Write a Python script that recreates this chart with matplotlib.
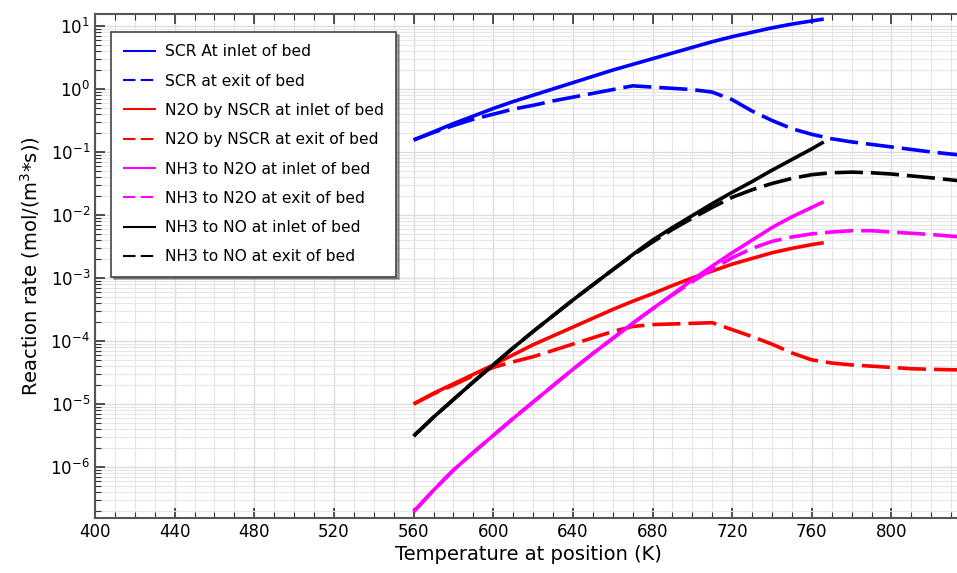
import matplotlib
matplotlib.use("Agg")
import matplotlib.pyplot as plt
import numpy as np
from matplotlib.ticker import MultipleLocator, FixedLocator, NullFormatter

# temperatures (K) and log10 reaction rates
t_inlet = [560, 570, 580, 590, 600, 610, 620, 630, 640, 650, 660,
           670, 680, 690, 700, 710, 720, 730, 740, 750, 760, 766]
t_exit = [560, 570, 580, 590, 600, 610, 620, 630, 640, 650, 660,
          670, 680, 690, 700, 710, 720, 730, 740, 750, 760, 770,
          780, 790, 800, 810, 820, 835]

scr_inlet = [-0.81, -0.68, -0.55, -0.43, -0.31, -0.20, -0.10, 0.00, 0.10, 0.20, 0.30,
             0.39, 0.48, 0.57, 0.66, 0.75, 0.83, 0.90, 0.97, 1.03, 1.08, 1.11]
scr_exit = [-0.81, -0.69, -0.58, -0.48, -0.40, -0.32, -0.26, -0.19, -0.13, -0.07, -0.01,
            0.05, 0.03, 0.01, -0.01, -0.05, -0.17, -0.35, -0.50, -0.63, -0.72, -0.79,
            -0.84, -0.88, -0.92, -0.96, -1.00, -1.05]

n2o_inlet = [-5.0, -4.83, -4.68, -4.53, -4.38, -4.22, -4.06, -3.92, -3.78, -3.64, -3.50,
             -3.37, -3.25, -3.12, -3.0, -2.89, -2.78, -2.69, -2.60, -2.53, -2.47, -2.44]
n2o_exit = [-5.0, -4.84, -4.70, -4.55, -4.42, -4.33, -4.25, -4.15, -4.05, -3.95, -3.85,
            -3.77, -3.74, -3.73, -3.72, -3.71, -3.82, -3.93, -4.05, -4.19, -4.30, -4.35,
            -4.38, -4.40, -4.42, -4.44, -4.45, -4.46]

nh3n2o_inlet = [-6.71, -6.37, -6.05, -5.77, -5.50, -5.23, -4.97, -4.71, -4.45, -4.20, -3.96,
                -3.72, -3.49, -3.26, -3.03, -2.81, -2.60, -2.40, -2.20, -2.03, -1.88, -1.79]
nh3n2o_exit = [-6.71, -6.37, -6.05, -5.77, -5.50, -5.23, -4.97, -4.71, -4.45, -4.20, -3.96,
               -3.72, -3.49, -3.27, -3.06, -2.86, -2.68, -2.53, -2.42, -2.35, -2.30, -2.27,
               -2.25, -2.25, -2.27, -2.29, -2.31, -2.35]

nh3no_inlet = [-5.51, -5.21, -4.93, -4.65, -4.38, -4.11, -3.85, -3.60, -3.35, -3.11, -2.87,
               -2.63, -2.40, -2.20, -2.01, -1.82, -1.64, -1.47, -1.29, -1.12, -0.95, -0.84]
nh3no_exit = [-5.51, -5.21, -4.93, -4.65, -4.38, -4.11, -3.85, -3.60, -3.35, -3.11, -2.87,
              -2.64, -2.43, -2.23, -2.05, -1.88, -1.72, -1.60, -1.50, -1.42, -1.36, -1.33,
              -1.32, -1.33, -1.35, -1.38, -1.41, -1.46]

labels = ["SCR At inlet of bed", "SCR at exit of bed",
          "N2O by NSCR at inlet of bed", "N2O by NSCR at exit of bed",
          "NH3 to N2O at inlet of bed", "NH3 to N2O at exit of bed",
          "NH3 to NO at inlet of bed", "NH3 to NO at exit of bed"]

fig = plt.figure(figsize=(9.57, 5.73), dpi=100)
ax = fig.add_axes([0.0993, 0.096, 0.905, 0.8796])

series = [
    (t_inlet, scr_inlet, "#0000ff", "-"),
    (t_exit, scr_exit, "#0000ff", "--"),
    (t_inlet, n2o_inlet, "#ff0000", "-"),
    (t_exit, n2o_exit, "#ff0000", "--"),
    (t_inlet, nh3n2o_inlet, "#ff00ff", "-"),
    (t_exit, nh3n2o_exit, "#ff00ff", "--"),
    (t_inlet, nh3no_inlet, "#000000", "-"),
    (t_exit, nh3no_exit, "#000000", "--"),
]
for (t, v, c, ls), lab in zip(series, labels):
    line, = ax.plot(t, 10 ** np.array(v), color=c, linestyle=ls, linewidth=2.6,
                    label=lab, solid_capstyle="butt")
    if ls == "--":
        line.set_dashes((7.8, 2.2))

ax.set_yscale("log")
ax.set_xlim(400, 835)
ax.set_ylim(1.55e-7, 15.5)

# only decades / minors that fall inside the visible range
decades = np.arange(-7, 2)
major_y = [10.0 ** d for d in decades if 1.55e-7 <= 10.0 ** d <= 15.5]
minor_y = [m * 10.0 ** d for d in decades for m in range(2, 10)
           if 1.55e-7 <= m * 10.0 ** d <= 15.5]

ax.xaxis.set_major_locator(MultipleLocator(40))
ax.xaxis.set_minor_locator(MultipleLocator(10))
ax.yaxis.set_major_locator(FixedLocator(major_y))
ax.yaxis.set_minor_locator(FixedLocator(minor_y))
ax.yaxis.set_minor_formatter(NullFormatter())

ax.grid(True, which="major", color="#dcdcdc", linewidth=1.0)
ax.grid(True, which="minor", color="#e6e6e6", linewidth=0.8)
ax.set_axisbelow(True)

ax.tick_params(which="both", direction="in", top=True, right=False, labelsize=12,
               colors="#333333", labelcolor="black")
ax.tick_params(which="major", length=7, width=1.2)
ax.tick_params(which="minor", length=4, width=0.8)
for s in ["left", "bottom", "top"]:
    ax.spines[s].set_color("#555555")
    ax.spines[s].set_linewidth(1.5)
ax.spines["right"].set_visible(False)

ax.set_xlabel("Temperature at position (K)", fontsize=14, labelpad=3)
ax.set_ylabel("Reaction rate (mol/(m$^3$*s))", fontsize=14, labelpad=6)

leg = ax.legend(loc="upper left", bbox_to_anchor=(0.0186, 0.964), borderaxespad=0,
                fontsize=11.2, fancybox=False, shadow=True, framealpha=1,
                edgecolor="#444444", handlelength=2.1, handletextpad=0.6,
                labelspacing=0.92, borderpad=0.78)
leg.get_frame().set_linewidth(1.2)
for h in leg.get_lines():
    h.set_linewidth(1.5)
    if h.get_linestyle() == "--":
        h.set_dashes((6, 2.5))

fig.savefig("out.png", dpi=100)
